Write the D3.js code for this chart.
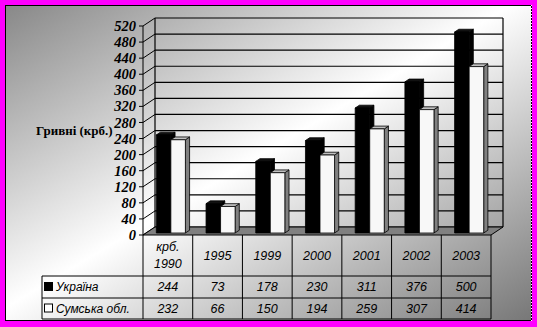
<!DOCTYPE html>
<html>
<head>
<meta charset="utf-8">
<script src="https://cdn.jsdelivr.net/npm/d3@7"></script>
<style>
  body { margin: 0; background: #ff00ff; }
  svg { display: block; }
  .serif { font-family: "Times New Roman", "Liberation Serif", serif; font-weight: bold; }
  .sans { font-family: Arial, "Liberation Sans", sans-serif; font-style: italic; }
</style>
</head>
<body>
<svg id="chart" width="537" height="327"></svg>
<script>
// chart data
const categories = [["крб.", "1990"], ["1995"], ["1999"], ["2000"], ["2001"], ["2002"], ["2003"]];
const seriesNames = ["Україна", "Сумська обл."];
const ukraine = [244, 73, 178, 230, 311, 376, 500];
const sumy = [232, 66, 150, 194, 259, 307, 414];
const yTicks = [0, 40, 80, 120, 160, 200, 240, 280, 320, 360, 400, 440, 480, 520];
const yTitle = "Гривні (крб.)";

const svg = d3.select("#chart");

// background gradient (gray - white - gray, diagonal)
const defs = svg.append("defs");
const grad = defs.append("linearGradient")
  .attr("id", "bg")
  .attr("x1", 0).attr("y1", 0).attr("x2", 1).attr("y2", 1);
grad.append("stop").attr("offset", "0%").attr("stop-color", "#888");
grad.append("stop").attr("offset", "48%").attr("stop-color", "#fff");
grad.append("stop").attr("offset", "100%").attr("stop-color", "#777");

svg.append("rect")
  .attr("x", 5.5).attr("y", 5.5).attr("width", 526).attr("height", 315)
  .attr("fill", "url(#bg)")
  .attr("stroke", "#000");
svg.append("line")
  .attr("x1", 531.5).attr("x2", 531.5).attr("y1", 5).attr("y2", 321)
  .attr("stroke", "#fff").attr("stroke-dasharray", "1,2");

// 3d projection: x on back plane, value, z (0 back .. 1 front)
const DX = -12, DY = 8;
const x = d3.scaleBand().domain(d3.range(categories.length)).range([155, 503]);
const sub = d3.scaleBand().domain([0, 1]).range([0, x.bandwidth()]).paddingOuter(0.71);
const y = d3.scaleLinear().domain([0, 520]).range([227, 18]);
const P = (px, v, z) => [px + DX * z, y(v) + DY * z];
const poly = pts => "M" + pts.map(p => p.join(",")).join("L") + "Z";

const g = svg.append("g");

// back wall gridlines + border
g.selectAll(".grid").data(yTicks).join("line")
  .attr("x1", 155).attr("x2", 503)
  .attr("y1", d => y(d)).attr("y2", d => y(d))
  .attr("stroke", "#000").attr("stroke-width", 1.2);
[155, 503].forEach(px => {
  g.append("line").attr("x1", px).attr("x2", px)
    .attr("y1", y(520)).attr("y2", y(0))
    .attr("stroke", "#000").attr("stroke-width", 1.2);
});

// left wall gridlines (diagonal) and ticks
g.selectAll(".side").data(yTicks).join("line")
  .attr("x1", d => P(155, d, 1)[0]).attr("y1", d => P(155, d, 1)[1])
  .attr("x2", d => P(155, d, 0)[0]).attr("y2", d => P(155, d, 0)[1])
  .attr("stroke", "#000").attr("stroke-width", 1);
g.selectAll(".tick").data(yTicks).join("line")
  .attr("x1", d => P(155, d, 1)[0] - 4).attr("y1", d => P(155, d, 1)[1])
  .attr("x2", d => P(155, d, 1)[0]).attr("y2", d => P(155, d, 1)[1])
  .attr("stroke", "#000");
g.append("line")
  .attr("x1", P(155, 0, 1)[0]).attr("x2", P(155, 0, 1)[0])
  .attr("y1", P(155, 520, 1)[1]).attr("y2", P(155, 0, 1)[1])
  .attr("stroke", "#000");

g.selectAll(".ylab").data(yTicks).join("text")
  .attr("class", "serif")
  .attr("x", d => P(155, d, 1)[0] - 7)
  .attr("y", d => P(155, d, 1)[1])
  .attr("dy", "0.35em")
  .attr("text-anchor", "end")
  .style("font-style", "italic")
  .style("font-size", "14.5px")
  .text(d => d);

g.append("text")
  .attr("class", "serif")
  .attr("x", 36).attr("y", 130).attr("dy", "0.35em")
  .style("font-size", "13px")
  .text(yTitle);

// floor
g.append("path")
  .attr("d", poly([P(155, 0, 0), P(503, 0, 0), P(503, 0, 1), P(155, 0, 1)]))
  .attr("fill", "#808080").attr("stroke", "#000");

// bars
const Z0 = 0.4, Z1 = 0.75;
const series = [
  { values: ukraine, front: "#000", side: "#000", top: "#111" },
  { values: sumy, front: "#f8f8f8", side: "#808080", top: "#c0c0c0" }
];
const bars = [];
categories.forEach((c, i) => {
  series.forEach((s, k) => {
    bars.push({ i, k, v: s.values[i], s });
  });
});
const bg = g.selectAll(".bar").data(bars).join("g");
bg.each(function (d) {
  const x0 = x(d.i) + sub(d.k), x1 = x0 + sub.bandwidth();
  const sel = d3.select(this);
  sel.append("path")
    .attr("d", poly([P(x1, 0, Z1), P(x1, d.v, Z1), P(x1, d.v, Z0), P(x1, 0, Z0)]))
    .attr("fill", d.s.side).attr("stroke", "#000").attr("stroke-width", 0.8);
  sel.append("path")
    .attr("d", poly([P(x0, d.v, Z1), P(x1, d.v, Z1), P(x1, d.v, Z0), P(x0, d.v, Z0)]))
    .attr("fill", d.s.top).attr("stroke", "#000").attr("stroke-width", 0.8);
  sel.append("path")
    .attr("d", poly([P(x0, 0, Z1), P(x0, d.v, Z1), P(x1, d.v, Z1), P(x1, 0, Z1)]))
    .attr("fill", d.s.front).attr("stroke", "#000").attr("stroke-width", 0.8);
});

// data table
const tx = i => x(i) + DX;           // front column edges
const tLeft = 42, tRight = x(6) + x.bandwidth() + DX;
const rowY = [P(155, 0, 1)[1], 276, 298, 319];
const tbl = svg.append("g").attr("stroke", "#000").attr("stroke-width", 1);
d3.range(categories.length + 1).forEach(i => {
  const px = i < categories.length ? tx(i) : tRight;
  tbl.append("line").attr("x1", px).attr("x2", px).attr("y1", rowY[0]).attr("y2", rowY[3]);
});
tbl.append("line").attr("x1", tLeft).attr("x2", tLeft).attr("y1", rowY[1]).attr("y2", rowY[3]);
[1, 2, 3].forEach(r => {
  tbl.append("line").attr("x1", tLeft).attr("x2", tRight).attr("y1", rowY[r]).attr("y2", rowY[r]);
});

const hdr = svg.append("g");
categories.forEach((c, i) => {
  const cx = tx(i) + x.bandwidth() / 2;
  const cy = (rowY[0] + rowY[1]) / 2;
  c.forEach((line, j) => {
    hdr.append("text")
      .attr("class", "sans")
      .attr("x", cx).attr("y", cy + (j - (c.length - 1) / 2) * 17)
      .attr("dy", "0.35em").attr("text-anchor", "middle")
      .style("font-size", "12.5px")
      .text(line);
  });
});
[ukraine, sumy].forEach((vals, r) => {
  const cy = (rowY[r + 1] + rowY[r + 2]) / 2;
  vals.forEach((v, i) => {
    hdr.append("text")
      .attr("class", "sans")
      .attr("x", tx(i) + x.bandwidth() / 2).attr("y", cy)
      .attr("dy", "0.35em").attr("text-anchor", "middle")
      .style("font-size", "12.5px")
      .text(v);
  });
  hdr.append("rect")
    .attr("x", 44.5).attr("y", cy - 4.5).attr("width", 8).attr("height", 8)
    .attr("fill", r === 0 ? "#000" : "#fff").attr("stroke", "#000");
  hdr.append("text")
    .attr("class", "sans")
    .attr("x", 56).attr("y", cy).attr("dy", "0.35em")
    .style("font-size", "12px")
    .text(seriesNames[r]);
});
</script>
</body>
</html>
